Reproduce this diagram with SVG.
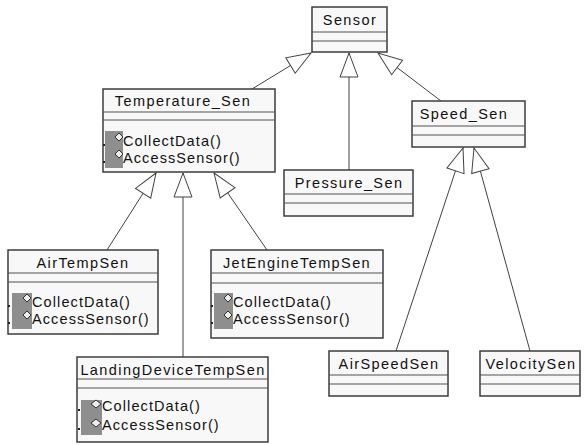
<svg xmlns="http://www.w3.org/2000/svg" width="587" height="445" viewBox="0 0 587 445">
<style>
.box{fill:#f8f8f8;stroke:#3c3c3c;stroke-width:1.5}
.div{stroke:#505050;stroke-width:1}
.nm{font-family:"Liberation Sans",Arial,sans-serif;font-size:14.5px;letter-spacing:1.4px;fill:#111;text-anchor:middle}
.op{font-family:"Liberation Sans",Arial,sans-serif;font-size:14.5px;letter-spacing:1.1px;fill:#111}
.gr{fill:#8e8e8e}
.dm{fill:#eeeeee;stroke:#333;stroke-width:1}
.dot{fill:#222}
.conn line{stroke:#404040;stroke-width:1;marker-end:url(#tri)}
</style>
<defs>
<marker id="tri" markerUnits="userSpaceOnUse" viewBox="-26 -11 28 22" markerWidth="28" markerHeight="22" refX="0" refY="0" orient="auto">
<path d="M0,0 L-24,-9 L-24,9 Z" fill="#ffffff" stroke="#404040" stroke-width="1"/>
</marker>
</defs>
<rect width="587" height="445" fill="#ffffff"/>
<g class="conn" id="connectors">
<line x1="252" y1="89" x2="311" y2="53"/>
<line x1="349" y1="170" x2="349" y2="53"/>
<line x1="441" y1="101" x2="378" y2="53"/>
<line x1="107" y1="250" x2="156" y2="173"/>
<line x1="183" y1="357" x2="183" y2="173"/>
<line x1="267" y1="250" x2="214" y2="173"/>
<line x1="396" y1="351" x2="463" y2="148"/>
<line x1="530" y1="351" x2="474" y2="148"/>
</g>
<g id="Sensor">
<rect class="box" x="312" y="7" width="75" height="45"/>
<line class="div" x1="312" y1="32" x2="387" y2="32"/>
<line class="div" x1="312" y1="41" x2="387" y2="41"/>
<text class="nm" x="350" y="25">Sensor</text>
</g>
<g id="Temperature_Sen">
<rect class="box" x="103" y="89" width="172" height="83"/>
<line class="div" x1="103" y1="112" x2="275" y2="112"/>
<line class="div" x1="103" y1="120" x2="275" y2="120"/>
<text class="nm" x="183" y="106">Temperature_Sen</text>
<rect class="gr" x="105" y="131" width="18" height="37"/>
<rect class="dot" x="103" y="144" width="2" height="2"/>
<rect class="dot" x="103" y="161" width="2" height="2"/>
<polygon class="dm" points="119,133 123,137 119,141 115,137"/>
<polygon class="dm" points="119,150 123,154 119,158 115,154"/>
<text class="op" x="123" y="146">CollectData()</text>
<text class="op" x="123" y="163">AccessSensor()</text>
</g>
<g id="Pressure_Sen">
<rect class="box" x="284" y="170" width="129" height="46"/>
<line class="div" x1="284" y1="194" x2="413" y2="194"/>
<line class="div" x1="284" y1="203" x2="413" y2="203"/>
<text class="nm" x="349" y="188">Pressure_Sen</text>
</g>
<g id="Speed_Sen">
<rect class="box" x="412" y="101" width="113" height="46"/>
<line class="div" x1="412" y1="126" x2="525" y2="126"/>
<line class="div" x1="412" y1="135" x2="525" y2="135"/>
<text class="nm" x="464" y="119">Speed_Sen</text>
</g>
<g id="AirTempSen">
<rect class="box" x="8" y="250" width="150" height="84"/>
<line class="div" x1="8" y1="273" x2="158" y2="273"/>
<line class="div" x1="8" y1="282" x2="158" y2="282"/>
<text class="nm" x="83" y="268">AirTempSen</text>
<rect class="gr" x="12" y="293" width="20" height="36"/>
<rect class="dot" x="8" y="305" width="2" height="2"/>
<rect class="dot" x="8" y="322" width="2" height="2"/>
<polygon class="dm" points="27,294 31,298 27,302 23,298"/>
<polygon class="dm" points="27,311 31,315 27,319 23,315"/>
<text class="op" x="32" y="307">CollectData()</text>
<text class="op" x="32" y="324">AccessSensor()</text>
</g>
<g id="JetEngineTempSen">
<rect class="box" x="211" y="250" width="172" height="88"/>
<line class="div" x1="211" y1="273" x2="383" y2="273"/>
<line class="div" x1="211" y1="283" x2="383" y2="283"/>
<text class="nm" x="297" y="268">JetEngineTempSen</text>
<rect class="gr" x="214" y="293" width="19" height="36"/>
<rect class="dot" x="211" y="305" width="2" height="2"/>
<rect class="dot" x="211" y="322" width="2" height="2"/>
<polygon class="dm" points="228,294 232,298 228,302 224,298"/>
<polygon class="dm" points="228,311 232,315 228,319 224,315"/>
<text class="op" x="233" y="307">CollectData()</text>
<text class="op" x="233" y="324">AccessSensor()</text>
</g>
<g id="LandingDeviceTempSen">
<rect class="box" x="77" y="357" width="191" height="85"/>
<line class="div" x1="77" y1="379" x2="268" y2="379"/>
<line class="div" x1="77" y1="388" x2="268" y2="388"/>
<text class="nm" x="173" y="375">LandingDeviceTempSen</text>
<rect class="gr" x="81" y="400" width="21" height="35"/>
<rect class="dot" x="78" y="409" width="2" height="2"/>
<rect class="dot" x="78" y="428" width="2" height="2"/>
<polygon class="dm" points="96,400 101,404 96,408 91,404"/>
<polygon class="dm" points="96,419 101,423 96,427 91,423"/>
<text class="op" x="102" y="411">CollectData()</text>
<text class="op" x="102" y="430">AccessSensor()</text>
</g>
<g id="AirSpeedSen">
<rect class="box" x="329" y="351" width="119" height="45"/>
<line class="div" x1="329" y1="375" x2="448" y2="375"/>
<line class="div" x1="329" y1="384" x2="448" y2="384"/>
<text class="nm" x="389" y="369">AirSpeedSen</text>
</g>
<g id="VelocitySen">
<rect class="box" x="480" y="351" width="100" height="45"/>
<line class="div" x1="480" y1="375" x2="580" y2="375"/>
<line class="div" x1="480" y1="384" x2="580" y2="384"/>
<text class="nm" x="531" y="369">VelocitySen</text>
</g>
</svg>
